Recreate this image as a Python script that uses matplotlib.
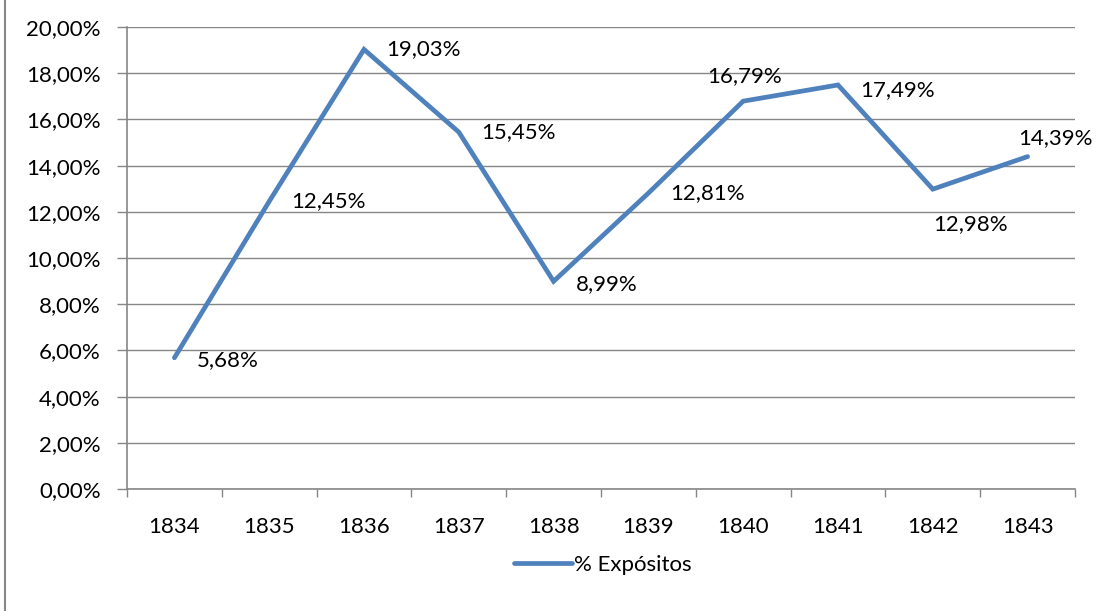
import matplotlib.pyplot as plt
from matplotlib.lines import Line2D

years = ['1834', '1835', '1836', '1837', '1838', '1839', '1840', '1841', '1842', '1843']
expositos = [5.68, 12.45, 19.03, 15.45, 8.99, 12.81, 16.79, 17.49, 12.98, 14.39]
yticks = [0, 2, 4, 6, 8, 10, 12, 14, 16, 18, 20]

# label offsets in points (dx, dy)
offs = [(16, -2), (16, 0), (16, 0), (16, 0), (16, -2),
        (16, 0), (-26, 18), (16, -4), (0, -25), (-7, 13)]

plt.rcParams['font.family'] = ['Lato', 'DejaVu Sans']
grey = '#868686'
blue = '#4F81BD'
fs = 16

fig = plt.figure(figsize=(10.98, 6.11), dpi=100)
ax = fig.add_axes([127/1098, 1-489/611, (1075-127)/1098, (489-27)/611])
x = list(range(len(years)))
ax.plot(x, expositos, color=blue, lw=3.4, solid_capstyle='round', solid_joinstyle='miter')
ax.set_xlim(-0.5, len(years)-0.5)
ax.set_ylim(0, 20)
ax.set_yticks(yticks)
ax.set_yticklabels(['%d,00%%' % v for v in yticks], fontsize=fs)
ax.set_xticks(x)
ax.set_xticklabels(years, fontsize=fs)
ax.tick_params(axis='x', length=0, pad=20)
ax.set_xticks([i-0.5 for i in range(len(years)+1)], minor=True)
ax.tick_params(axis='x', which='minor', length=6, color=grey, width=1)
ax.tick_params(axis='y', length=7, color=grey, width=1, pad=12)
ax.grid(axis='y', color=grey, lw=1)
ax.set_axisbelow(True)
for s in ['top', 'right']:
    ax.spines[s].set_visible(False)
for s in ['left', 'bottom']:
    ax.spines[s].set_color(grey)
    ax.spines[s].set_linewidth(1.2)

for i, v in enumerate(expositos):
    dx, dy = offs[i]
    ax.annotate(('%.2f%%' % v).replace('.', ','), (i, v), xytext=(dx, dy), textcoords='offset points',
                ha='left', va='center', fontsize=fs)

h = Line2D([], [], color=blue, lw=3.4, solid_capstyle='round')
fig.legend([h], ['% Expósitos'], loc='center', bbox_to_anchor=(603/1098, 1-565/611), frameon=False,
           fontsize=fs, handlelength=2.6, handletextpad=0.1)

fig.add_artist(Line2D([5/1098, 5/1098], [0, 1], color=grey, lw=1.5))
fig.savefig('out.png', dpi=100)
